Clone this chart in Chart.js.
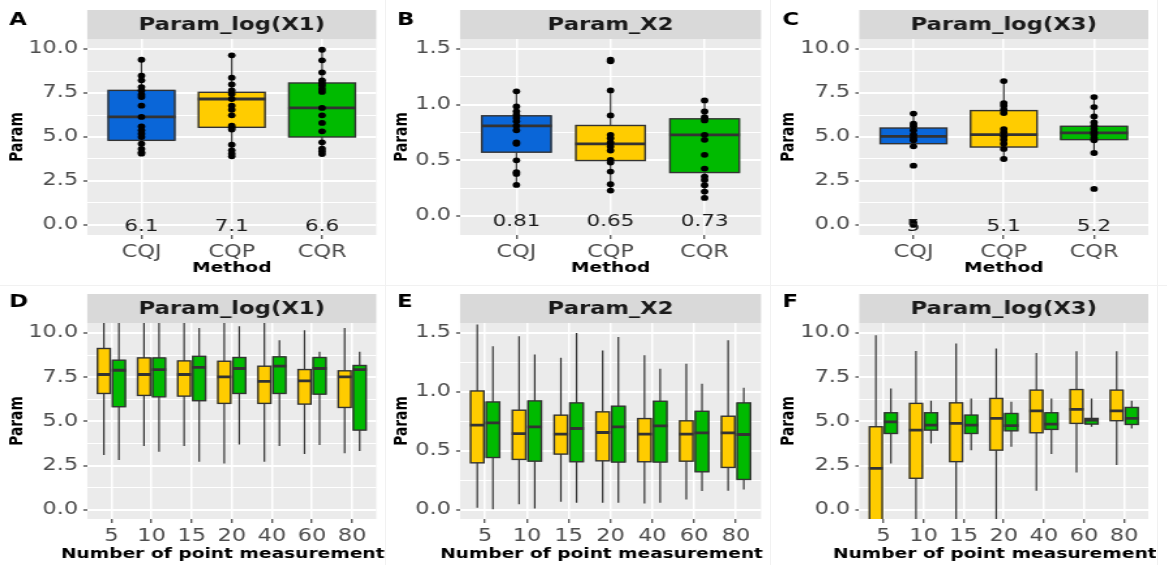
<!DOCTYPE html>
<html>
<head>
<meta charset="utf-8">
<title>Param boxplots</title>
<script src="https://cdn.jsdelivr.net/npm/chart.js@4.4.1/dist/chart.umd.min.js"></script>
<style>
  html, body { margin: 0; padding: 0; background: #ffffff; }
  body { position: relative; width: 1167px; height: 565px; overflow: hidden; }
  .panel { position: absolute; transform-origin: 0 0; }
  .sep { position: absolute; background: #f1f1f1; }
</style>
</head>
<body>
<div class="sep" style="left:385px;top:0;width:1px;height:565px"></div>
<div class="sep" style="left:770px;top:0;width:1px;height:565px"></div>
<div class="sep" style="left:1157px;top:0;width:1px;height:565px"></div>
<div class="sep" style="left:0;top:285px;width:1167px;height:1px"></div>
<script>
Chart.defaults.font.family = '"DejaVu Sans", sans-serif';
Chart.defaults.animation = false;

// the figure is wider than it is tall in its text and dots, so each panel is drawn narrow and stretched back
const stretch = 1.3;

const methods = ['CQJ', 'CQP', 'CQR'];
const methodColors = ['#0A66D8', '#FFCC00', '#00BA00'];
const pointCounts = ['5', '10', '15', '20', '40', '60', '80'];
const yellow = '#FFCC00';
const green = '#00BA00';

// every box is [low whisker, q1, median, q3, high whisker]
const aBoxes = [[4.05, 4.81, 6.14, 7.65, 9.39], [3.9, 5.55, 7.16, 7.54, 9.64], [4.03, 5.0, 6.65, 8.07, 9.96]];
const aPoints = [
  [9.39, 8.48, 8.22, 7.84, 7.65, 7.4, 7.27, 6.78, 6.14, 5.6, 5.38, 5.19, 5.0, 4.62, 4.32, 4.13, 4.05],
  [9.64, 8.37, 7.99, 7.65, 7.44, 7.16, 6.78, 6.55, 6.23, 5.64, 5.53, 5.42, 4.56, 4.24, 4.05, 3.9],
  [9.96, 9.36, 8.67, 8.22, 8.07, 7.92, 7.73, 7.56, 6.65, 6.23, 5.8, 5.32, 4.7, 4.34, 4.19, 4.03]
];
const aLabels = ['6.1', '7.1', '6.6'];

const bBoxes = [[0.279, 0.573, 0.81, 0.9, 1.12], [0.228, 0.498, 0.648, 0.813, 1.128], [0.162, 0.39, 0.729, 0.873, 1.038]];
const bPoints = [
  [1.12, 0.984, 0.94, 0.91, 0.88, 0.85, 0.81, 0.77, 0.66, 0.648, 0.5, 0.393, 0.378, 0.279],
  [1.404, 1.39, 1.128, 0.903, 0.729, 0.699, 0.66, 0.624, 0.588, 0.504, 0.48, 0.399, 0.285, 0.228],
  [1.038, 0.939, 0.888, 0.858, 0.729, 0.684, 0.549, 0.426, 0.354, 0.324, 0.276, 0.219, 0.162]
];
const bLabels = ['0.81', '0.65', '0.73'];

const cBoxes = [[4.47, 4.62, 5.04, 5.51, 6.33], [3.75, 4.43, 5.13, 6.5, 8.18], [4.09, 4.85, 5.23, 5.61, 7.27]];
const cPoints = [
  [6.33, 5.76, 5.61, 5.38, 5.13, 4.94, 4.81, 4.47, 3.37, 0.15, 0.0],
  [8.18, 6.93, 6.78, 6.55, 6.36, 5.45, 5.27, 5.04, 4.85, 4.62, 4.32, 3.75],
  [7.27, 6.7, 6.17, 5.83, 5.64, 5.45, 5.27, 5.13, 4.94, 4.81, 4.09, 2.05]
];
const cLabels = ['5', '5.1', '5.2'];

// bottom row, by number of point measurements (yellow = CQP, green = CQR)
const dYellow = [[3.1, 6.58, 7.65, 9.12, 11], [3.61, 6.47, 7.65, 8.59, 11], [3.61, 6.43, 7.65, 8.42, 11], [2.63, 6.02, 7.52, 8.4, 11],
  [2.73, 6.02, 7.26, 8.12, 11], [3.16, 5.98, 7.29, 7.93, 10.15], [3.2, 5.79, 7.52, 7.86, 10.28]];
const dGreen = [[2.82, 5.83, 7.89, 8.46, 11], [3.29, 6.39, 7.93, 8.59, 11], [2.73, 6.17, 8.05, 8.68, 10.28], [3.7, 6.58, 7.99, 8.61, 10.38],
  [3.61, 6.58, 8.12, 8.65, 9.59], [3.67, 6.54, 7.99, 8.61, 8.93], [3.33, 4.51, 7.93, 8.16, 8.93]];

const eYellow = [[0.02, 0.4, 0.719, 1.009, 1.573], [0.05, 0.429, 0.648, 0.846, 1.472], [0.07, 0.474, 0.643, 0.804, 1.291], [0.062, 0.417, 0.657, 0.832, 1.353],
  [0.056, 0.409, 0.643, 0.775, 1.311], [0.09, 0.414, 0.643, 0.756, 1.24], [0.164, 0.361, 0.654, 0.795, 1.438]];
const eGreen = [[0.006, 0.445, 0.739, 0.916, 1.387], [0.014, 0.414, 0.705, 0.925, 1.319], [0.062, 0.409, 0.691, 0.908, 1.5], [0.062, 0.406, 0.705, 0.88, 1.466],
  [0.062, 0.406, 0.713, 0.922, 1.198], [0.161, 0.324, 0.654, 0.837, 1.071], [0.175, 0.259, 0.64, 0.908, 1.037]];

const fYellow = [[-3, -1.2, 2.35, 4.7, 9.87], [-1, 1.79, 4.51, 6.02, 8.98], [-1, 2.73, 4.89, 6.05, 9.4], [-0.6, 3.38, 5.17, 6.3, 9.12],
  [1.09, 4.36, 5.6, 6.77, 8.87], [2.11, 4.89, 5.68, 6.8, 8.97], [2.54, 5.04, 5.6, 6.77, 8.97]];
const fGreen = [[2.63, 4.32, 4.98, 5.49, 6.86], [3.76, 4.51, 4.79, 5.49, 6.17], [3.38, 4.32, 4.79, 5.36, 6.3], [3.57, 4.47, 4.76, 5.45, 6.11],
  [3.16, 4.55, 4.85, 5.49, 6.3], [4.7, 4.85, 5.08, 5.17, 6.3], [4.6, 4.83, 5.17, 5.79, 6.17]];

const logTicks = [0, 1.25, 2.5, 3.75, 5, 6.25, 7.5, 8.75, 10];
const logMajor = [0, 2.5, 5, 7.5, 10];
const x2Ticks = [0, 0.25, 0.5, 0.75, 1, 1.25, 1.5];
const x2Major = [0, 0.5, 1, 1.5];

// page geometry (in screen px) of the three columns and two rows
const cols = [
  {left: 0, right: 386, caL: 87, caR: 375, letterX: 9, yTitleX: 18},
  {left: 386, right: 770, caL: 460, caR: 761, letterX: 11, yTitleX: 16.5},
  {left: 770, right: 1156, caL: 859, caR: 1147, letterX: 12.5, yTitleX: 19}
];
const rows = [
  {top: 0, bottom: 286, caT: 39, caB: 235, letterY: 24.5, xTitle: 'Method', xTitleDy: 33, xShift: 0},
  {top: 286, bottom: 565, caT: 323, caB: 519, letterY: 307, xTitle: 'Number of point measurement', xTitleDy: 35, xShift: -9}
];

const panels = [
  {col: 0, row: 0, letter: 'A', strip: 'Param_log(X1)', yMin: -0.57, yMax: 10.57, yTicks: logTicks, yMajor: logMajor, xLabels: methods,
    series: [{label: 'Method', boxes: aBoxes, color: methodColors}], points: aPoints, labels: aLabels, labelY: -0.1},
  {col: 1, row: 0, letter: 'B', strip: 'Param_X2', yMin: -0.171, yMax: 1.59, yTicks: x2Ticks, yMajor: x2Major, xLabels: methods,
    series: [{label: 'Method', boxes: bBoxes, color: methodColors}], points: bPoints, labels: bLabels, labelY: -0.05},
  {col: 2, row: 0, letter: 'C', strip: 'Param_log(X3)', yMin: -0.57, yMax: 10.57, yTicks: logTicks, yMajor: logMajor, xLabels: methods,
    series: [{label: 'Method', boxes: cBoxes, color: methodColors}], points: cPoints, labels: cLabels, labelY: -0.1},
  {col: 0, row: 1, letter: 'D', strip: 'Param_log(X1)', yMin: -0.51, yMax: 10.56, yTicks: logTicks, yMajor: logMajor, xLabels: pointCounts,
    series: [{label: 'CQP', boxes: dYellow, color: yellow}, {label: 'CQR', boxes: dGreen, color: green}]},
  {col: 1, row: 1, letter: 'E', strip: 'Param_X2', yMin: -0.076, yMax: 1.585, yTicks: x2Ticks, yMajor: x2Major, xLabels: pointCounts,
    series: [{label: 'CQP', boxes: eYellow, color: yellow}, {label: 'CQR', boxes: eGreen, color: green}]},
  {col: 2, row: 1, letter: 'F', strip: 'Param_log(X3)', yMin: -0.51, yMax: 10.56, yTicks: logTicks, yMajor: logMajor, xLabels: pointCounts,
    series: [{label: 'CQP', boxes: fYellow, color: yellow}, {label: 'CQR', boxes: fGreen, color: green}]}
];

function facetPlugin(p, geo) {
  return {
    id: 'facet',
    beforeDraw(chart) {
      const {ctx, chartArea: a} = chart;
      ctx.save();
      ctx.fillStyle = '#EBEBEB';
      ctx.fillRect(a.left, a.top, a.width, a.height);
      ctx.fillStyle = '#D9D9D9';
      ctx.fillRect(a.left, a.top - 29, a.width, 29);

      ctx.fillStyle = '#1A1A1A';
      ctx.font = 'bold 17.4px "DejaVu Sans"';
      ctx.textAlign = 'center';
      ctx.textBaseline = 'middle';
      ctx.fillText(p.strip, (a.left + a.right) / 2, a.top - 14);

      ctx.fillStyle = '#000000';
      ctx.font = 'bold 17.5px "DejaVu Sans"';
      ctx.textAlign = 'left';
      ctx.textBaseline = 'alphabetic';
      ctx.fillText(p.letter, geo.letterX, geo.letterY);

      ctx.font = 'bold 14.3px "DejaVu Sans"';
      ctx.textAlign = 'center';
      ctx.textBaseline = 'middle';
      ctx.fillText(geo.xTitle, (a.left + a.right) / 2 + geo.xShift, a.bottom + geo.xTitleDy);

      ctx.save();
      ctx.translate(geo.yTitleX, (a.top + a.bottom) / 2);
      ctx.rotate(-Math.PI / 2);
      ctx.font = 'bold 13.8px "DejaVu Sans"';
      ctx.fillText('Param', 0, 0);
      ctx.restore();
      ctx.restore();
    },
    beforeDatasetDraw(chart, args) {
      const s = p.series[args.index];
      if (!s) return;
      const {ctx, chartArea: a, scales: {y}} = chart;
      ctx.save();
      ctx.beginPath();
      ctx.rect(a.left, a.top, a.width, a.height);
      ctx.clip();
      ctx.strokeStyle = '#333333';
      ctx.lineWidth = 1.2;
      args.meta.data.forEach((bar, i) => {
        const b = s.boxes[i];
        ctx.beginPath();
        ctx.moveTo(bar.x, y.getPixelForValue(b[0]));
        ctx.lineTo(bar.x, y.getPixelForValue(b[4]));
        ctx.stroke();
      });
      ctx.restore();
    },
    afterDatasetDraw(chart, args) {
      const s = p.series[args.index];
      if (!s) return;
      const {ctx, chartArea: a, scales: {y}} = chart;
      ctx.save();
      ctx.beginPath();
      ctx.rect(a.left, a.top, a.width, a.height);
      ctx.clip();
      ctx.strokeStyle = '#333333';
      ctx.lineWidth = 1.4;
      args.meta.data.forEach((bar, i) => {
        const b = s.boxes[i];
        const l = bar.x - bar.width / 2, r = bar.x + bar.width / 2;
        const top = y.getPixelForValue(b[3]), bot = y.getPixelForValue(b[1]);
        // box outline
        ctx.strokeRect(l + 0.5, top, r - l - 1, bot - top);
        // median
        const ym = y.getPixelForValue(b[2]);
        ctx.save();
        ctx.lineWidth = 2.8;
        ctx.beginPath();
        ctx.moveTo(l, ym);
        ctx.lineTo(r, ym);
        ctx.stroke();
        ctx.restore();
      });
      ctx.restore();
    },
    afterDatasetsDraw(chart) {
      if (!p.labels) return;
      const {ctx, scales: {x, y}} = chart;
      ctx.save();
      ctx.fillStyle = '#1A1A1A';
      ctx.font = '16.5px "DejaVu Sans"';
      ctx.textAlign = 'center';
      ctx.textBaseline = 'middle';
      p.labels.forEach((t, i) => ctx.fillText(t, x.getPixelForValue(i + 1), y.getPixelForValue(p.labelY)));
      ctx.restore();
    }
  };
}

function makePanel(p) {
  const c = cols[p.col];
  const r = rows[p.row];
  const w = (c.right - c.left) / stretch;
  const h = r.bottom - r.top;
  const wrap = document.createElement('div');
  wrap.className = 'panel';
  wrap.style.left = c.left + 'px';
  wrap.style.top = r.top + 'px';
  wrap.style.width = w + 'px';
  wrap.style.height = h + 'px';
  wrap.style.transform = 'scaleX(' + stretch + ')';
  const cv = document.createElement('canvas');
  wrap.appendChild(cv);
  document.body.appendChild(wrap);

  const yW = 50, xH = 40;
  const geo = {
    letterX: c.letterX / stretch,
    letterY: r.letterY - r.top,
    yTitleX: c.yTitleX / stretch,
    xTitle: r.xTitle,
    xTitleDy: r.xTitleDy,
    xShift: r.xShift / stretch
  };
  const n = p.xLabels.length;
  const xTickValues = p.xLabels.map((_, i) => i + 1);
  const single = p.series.length === 1;

  const datasets = p.series.map(s => ({
    type: 'bar',
    label: s.label,
    data: s.boxes.map((b, i) => ({x: i + 1, y: [b[1], b[3]]})),
    backgroundColor: s.color,
    borderWidth: 0,
    categoryPercentage: single ? 1 : 0.75,
    barPercentage: single ? 0.75 : 0.93,
    order: 1
  }));
  if (p.points) {
    datasets.push({
      type: 'scatter',
      label: 'points',
      data: p.points.flatMap((vals, i) => vals.map(v => ({x: i + 1, y: v}))),
      pointRadius: 2.9,
      pointHoverRadius: 2.9,
      backgroundColor: '#000000',
      borderWidth: 0,
      order: 0
    });
  }

  const isMajor = v => p.yMajor.includes(v);

  new Chart(cv, {
    type: 'bar',
    data: {datasets},
    options: {
      responsive: true,
      maintainAspectRatio: false,
      layout: {
        padding: {
          left: (c.caL - c.left) / stretch - yW,
          right: (c.right - c.caR) / stretch,
          top: r.caT - r.top,
          bottom: r.bottom - r.caB - xH
        }
      },
      plugins: {legend: {display: false}, tooltip: {enabled: false}},
      scales: {
        x: {
          type: 'linear',
          min: 0.4,
          max: n + 0.6,
          bounds: 'data',
          offset: false,
          afterBuildTicks: s => { s.ticks = xTickValues.map(v => ({value: v})); },
          afterFit: s => { s.height = xH; },
          border: {display: false},
          grid: {offset: false, color: '#FFFFFF', lineWidth: 1.5, tickColor: '#333333', tickLength: 4, tickWidth: 1.1},
          ticks: {
            autoSkip: false,
            maxRotation: 0,
            padding: 3,
            color: '#4D4D4D',
            font: {size: 17.2},
            callback: v => p.xLabels[Math.round(v) - 1]
          }
        },
        y: {
          type: 'linear',
          min: p.yMin,
          max: p.yMax,
          bounds: 'data',
          afterBuildTicks: s => { s.ticks = p.yTicks.map(v => ({value: v})); },
          afterFit: s => { s.width = yW; },
          border: {display: false},
          grid: {
            color: '#FFFFFF',
            lineWidth: ctx => (ctx.tick && isMajor(ctx.tick.value) ? 2 : 1),
            tickColor: ctx => (ctx.tick && isMajor(ctx.tick.value) ? '#333333' : 'rgba(0,0,0,0)'),
            tickLength: 3,
            tickWidth: 1.2
          },
          ticks: {
            padding: 4,
            color: '#4D4D4D',
            font: {size: 17.2},
            callback: v => (isMajor(v) ? v.toFixed(1) : '')
          }
        }
      }
    },
    plugins: [facetPlugin(p, geo)]
  });
}

panels.forEach(makePanel);
</script>
</body>
</html>
